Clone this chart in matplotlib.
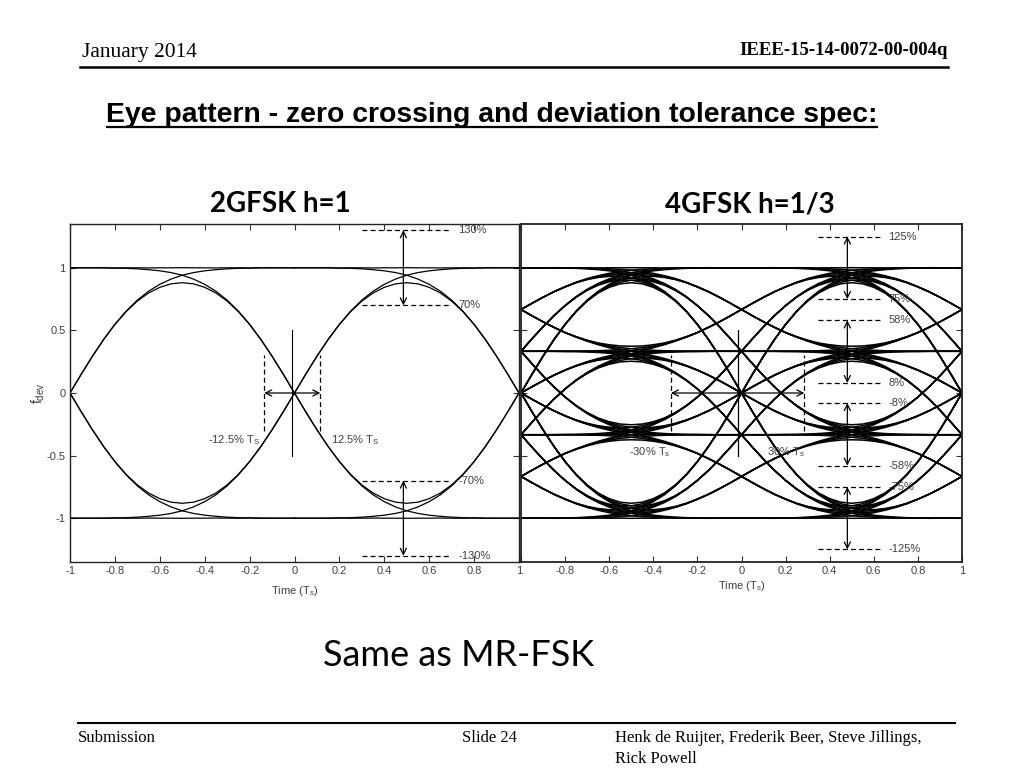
import itertools

import numpy as np
import matplotlib
matplotlib.use("Agg")
import matplotlib.pyplot as plt

# ---------------------------------------------------------------------------
# Data
# ---------------------------------------------------------------------------

# position inside one symbol period, as a fraction of Ts from the boundary
U = [0.00, 0.05, 0.10, 0.15, 0.20, 0.25, 0.30, 0.35, 0.40, 0.45, 0.50,
     0.55, 0.60, 0.65, 0.70, 0.75, 0.80, 0.85, 0.90, 0.95, 1.00]
# share of the frequency deviation coming from the current symbol
W_CUR = [0.500, 0.575, 0.647, 0.714, 0.773, 0.825, 0.867, 0.899, 0.922, 0.936, 0.941,
         0.936, 0.922, 0.899, 0.867, 0.825, 0.773, 0.714, 0.647, 0.575, 0.500]
# share leaking in from the next symbol (previous symbol is the mirror image)
W_NEXT = [0.000, 0.000, 0.000, 0.001, 0.001, 0.002, 0.004, 0.007, 0.012, 0.019, 0.030,
          0.045, 0.066, 0.093, 0.129, 0.173, 0.225, 0.286, 0.353, 0.425, 0.500]
W_PREV = W_NEXT[::-1]

PERIOD_STARTS = [-1.0, 0.0]
LEVELS_2GFSK = [-1.0, 1.0]
LEVELS_4GFSK = [-1.0, -1 / 3, 1 / 3, 1.0]

X_TICKS = [-1, -0.8, -0.6, -0.4, -0.2, 0, 0.2, 0.4, 0.6, 0.8, 1]
X_TICKLABELS = ["-1", "-0.8", "-0.6", "-0.4", "-0.2", "0", "0.2", "0.4", "0.6", "0.8", "1"]
Y_TICKS = [-1, -0.5, 0, 0.5, 1]
Y_TICKLABELS = ["-1", "-0.5", "0", "0.5", "1"]

# 2GFSK tolerance marks
L_CROSS = -0.01
L_ZC_EDGES = [-0.135, 0.115]
L_ZC_LABELS = ["-12.5% T$_S$", "12.5% T$_S$"]
L_DEV_LEVELS = [1.3, 0.7, -0.7, -1.3]
L_DEV_LABELS = ["130%", "70%", "-70%", "-130%"]
L_DEV_SPAN = [0.30, 0.69]
L_ARROW_X = 0.485

# 4GFSK tolerance marks
R_CROSS = -0.017
R_ZC_EDGES = [-0.32, 0.285]
R_ZC_LABELS = ["-30% T$_s$", "30% T$_s$"]
R_DEV_LEVELS = [1.25, 0.75, 0.58, 0.08, -0.08, -0.58, -0.75, -1.25]
R_DEV_LABELS = ["125%", "75%", "58%", "8%", "-8%", "-58%", "-75%", "-125%"]
R_DEV_SPAN = [0.345, 0.635]
R_ARROW_X = 0.48

GREY = "#404040"

plt.rcParams.update({
    "font.family": "Liberation Sans",
    "mathtext.fontset": "custom",
    "mathtext.rm": "Liberation Sans",
    "mathtext.it": "Liberation Sans",
    "mathtext.default": "rm",
})


def eye_traces(levels):
    u = np.array(U)
    wc, wn, wp = np.array(W_CUR), np.array(W_NEXT), np.array(W_PREV)
    out = []
    for t0 in PERIOD_STARTS:
        for p, c, n in itertools.product(levels, repeat=3):
            out.append((t0 + u, c * wc + p * wp + n * wn))
    return out


def style_axes(ax, spine_lw=1.0):
    ax.set_xlim(-1, 1)
    ax.set_ylim(-1.35, 1.35)
    ax.set_xticks(X_TICKS)
    ax.set_yticks(Y_TICKS)
    ax.tick_params(direction="in", length=4, width=0.8, top=True, right=True,
                   labelsize=8, labelcolor=GREY, color="#333333", pad=3)
    for s in ax.spines.values():
        s.set_linewidth(spine_lw)
        s.set_color("#222222")


def arrow(ax, x0, y0, x1, y1, style="<->"):
    ax.annotate("", xy=(x1, y1), xytext=(x0, y0),
                arrowprops=dict(arrowstyle=style, lw=0.9, color="black",
                                mutation_scale=11, shrinkA=0, shrinkB=0))


def main():
    fig = plt.figure(figsize=(10.24, 7.68), dpi=100)
    fig.patch.set_facecolor("white")

    # ---- header / footer ----
    serif = "Liberation Serif"
    fig.text(82 / 1024, 1 - 57 / 768, "January 2014", family=serif, fontsize=15.5)
    fig.text(948 / 1024, 1 - 55 / 768, "IEEE-15-14-0072-00-004q", family=serif,
             fontsize=13.5, fontweight="bold", ha="right")
    fig.add_artist(plt.Line2D([80 / 1024, 948 / 1024], [1 - 67 / 768] * 2,
                              color="black", lw=1.8))
    fig.text(492 / 1024, 1 - 122 / 768,
             "Eye pattern - zero crossing and deviation tolerance spec:",
             family="Liberation Sans", fontsize=20.4, fontweight="bold", ha="center")
    fig.add_artist(plt.Line2D([107 / 1024, 877 / 1024], [1 - 127 / 768] * 2,
                              color="black", lw=1.6))

    fig.add_artist(plt.Line2D([78 / 1024, 955 / 1024], [1 - 723 / 768] * 2,
                              color="black", lw=1.5))
    fig.text(78 / 1024, 1 - 742 / 768, "Submission", family=serif, fontsize=12)
    fig.text(462 / 1024, 1 - 742 / 768, "Slide 24", family=serif, fontsize=12)
    fig.text(615 / 1024, 1 - 742 / 768, "Henk de Ruijter, Frederik Beer, Steve Jillings,",
             family=serif, fontsize=12)
    fig.text(615 / 1024, 1 - 763 / 768, "Rick Powell", family=serif, fontsize=12)

    fig.text(280 / 1024, 1 - 204 / 768, "2GFSK h=1", family="Lato", fontsize=20,
             fontweight="bold", ha="center", va="center")
    fig.text(750 / 1024, 1 - 204 / 768, "4GFSK h=1/3", family="Lato", fontsize=20,
             fontweight="bold", ha="center", va="center")
    fig.text(459 / 1024, 1 - 656 / 768, "Same as MR-FSK", family="Lato", fontsize=26,
             ha="center", va="center")

    # ---- right panel: 4GFSK ----
    axr = fig.add_axes([521 / 1024, 1 - 562 / 768, 441 / 1024, 338 / 768])
    for t, y in eye_traces(LEVELS_4GFSK):
        axr.plot(t, y, color="black", lw=1.1)
    style_axes(axr, spine_lw=1.3)
    axr.set_yticklabels([])
    labels = list(X_TICKLABELS)
    labels[0] = ""
    axr.set_xticklabels(labels)
    axr.set_xlabel("Time (T$_s$)", fontsize=8, color=GREY, labelpad=2)

    axr.plot([R_CROSS, R_CROSS], [-0.5, 0.5], color="black", lw=0.9)
    for xe in R_ZC_EDGES:
        axr.plot([xe, xe], [-0.3, 0.3], color="black", lw=0.9, ls=(0, (4, 2.5)))
        arrow(axr, R_CROSS, 0, xe, 0, style="->")
    axr.text(-0.415, -0.5, R_ZC_LABELS[0], fontsize=8, color=GREY, ha="center")
    axr.text(0.2, -0.5, R_ZC_LABELS[1], fontsize=8, color=GREY, ha="center")
    for lev, lab in zip(R_DEV_LEVELS, R_DEV_LABELS):
        axr.plot(R_DEV_SPAN, [lev, lev], color="black", lw=0.9, ls=(0, (4, 2.5)))
        axr.text(R_DEV_SPAN[1] + 0.03, lev, lab, fontsize=8, color=GREY, va="center")
    for hi, lo in zip(R_DEV_LEVELS[0::2], R_DEV_LEVELS[1::2]):
        arrow(axr, R_ARROW_X, lo, R_ARROW_X, hi)

    # ---- left panel: 2GFSK ----
    axl = fig.add_axes([70 / 1024, 1 - 562 / 768, 449 / 1024, 338 / 768])
    axl.set_facecolor("white")
    for t, y in eye_traces(LEVELS_2GFSK):
        axl.plot(t, y, color="black", lw=0.9)
    style_axes(axl)
    axl.set_xticklabels(X_TICKLABELS)
    axl.set_yticklabels(Y_TICKLABELS)
    axl.set_xlabel("Time (T$_s$)", fontsize=8, color=GREY, labelpad=6)
    axl.set_ylabel("f$_{dev}$", fontsize=10, color=GREY, labelpad=0)

    axl.plot([L_CROSS, L_CROSS], [-0.5, 0.5], color="black", lw=0.8)
    for xe in L_ZC_EDGES:
        axl.plot([xe, xe], [-0.3, 0.3], color="black", lw=0.9, ls=(0, (4, 2.5)))
    arrow(axl, L_ZC_EDGES[0], 0, L_ZC_EDGES[1], 0)
    axl.text(-0.27, -0.4, L_ZC_LABELS[0], fontsize=8, color=GREY, ha="center")
    axl.text(0.27, -0.4, L_ZC_LABELS[1], fontsize=8, color=GREY, ha="center")
    for lev, lab in zip(L_DEV_LEVELS, L_DEV_LABELS):
        axl.plot(L_DEV_SPAN, [lev, lev], color="black", lw=0.9, ls=(0, (4, 2.5)))
        axl.text(L_DEV_SPAN[1] + 0.04, lev, lab, fontsize=8, color=GREY, va="center")
    for hi, lo in zip(L_DEV_LEVELS[0::2], L_DEV_LEVELS[1::2]):
        arrow(axl, L_ARROW_X, lo, L_ARROW_X, hi)

    fig.savefig("out.png", dpi=100)
    plt.close(fig)


if __name__ == "__main__":
    main()
